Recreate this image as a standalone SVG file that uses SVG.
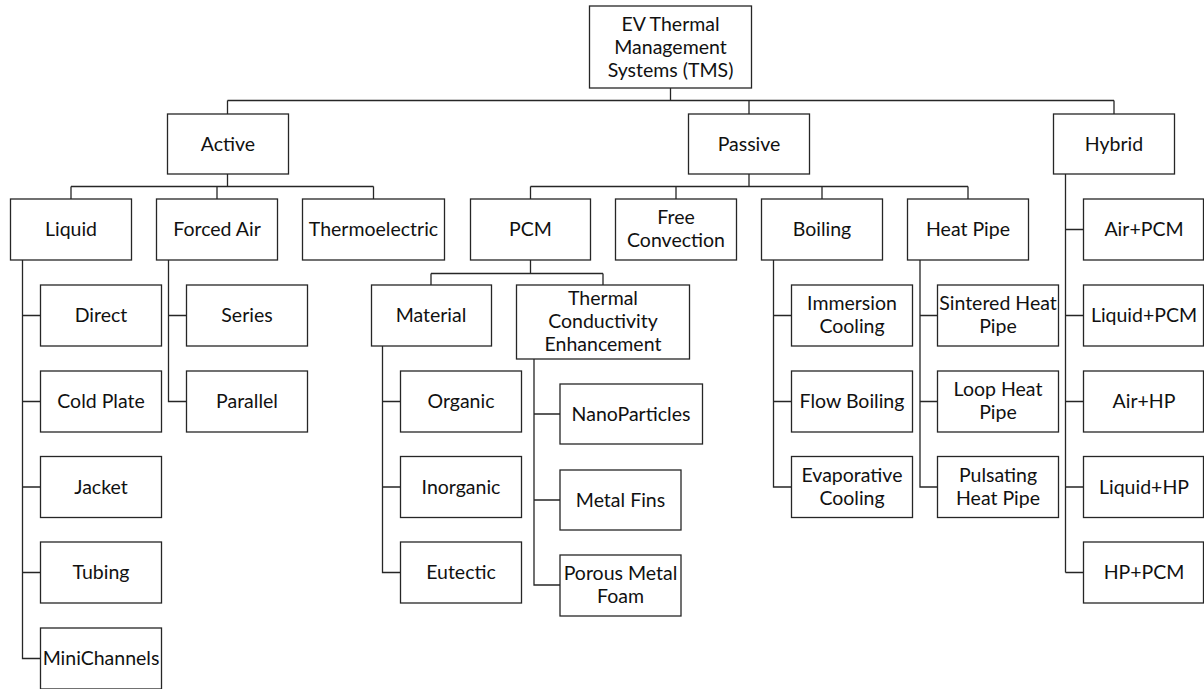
<svg xmlns="http://www.w3.org/2000/svg" width="1204" height="689" viewBox="0 0 1204 689">
  <style>
    .box { fill: #ffffff; stroke: #262626; stroke-width: 1.3; }
    .wire { fill: none; stroke: #262626; stroke-width: 1.3; }
    text { font-family: Lato, "Open Sans", "Liberation Sans", sans-serif; font-size: 19.5px; fill: #111111; text-anchor: middle; }
  </style>
  <rect width="1204" height="689" fill="#ffffff"/>

  <!-- connectors -->
  <g id="connectors" class="wire">
    <path d="M670.5 88 V100.5 M227.5 100.5 H1114 M227.5 100.5 V114 M749 100.5 V114 M1114 100.5 V114"/>
    <path d="M227.5 174 V186.5 M71 186.5 H373.5 M71 186.5 V199 M217 186.5 V199 M373.5 186.5 V199"/>
    <path d="M749 174 V186.5 M530.5 186.5 H968 M530.5 186.5 V199 M676 186.5 V199 M822 186.5 V199 M968 186.5 V199"/>
    <path d="M1065.5 174 V572.5 M1065.5 229.5 H1083.5 M1065.5 315.5 H1083.5 M1065.5 401.5 H1083.5 M1065.5 487 H1083.5 M1065.5 572.5 H1083.5"/>
    <path d="M22.5 260 V658.5 H40.5 M22.5 315.5 H40.5 M22.5 401.5 H40.5 M22.5 487 H40.5 M22.5 572.5 H40.5"/>
    <path d="M168.5 260 V401.5 H186.5 M168.5 315.5 H186.5"/>
    <path d="M530.5 260 V273.5 M431 273.5 H603 M431 273.5 V285 M603 273.5 V285"/>
    <path d="M382.5 346 V572.5 H400.5 M382.5 401.5 H400.5 M382.5 487 H400.5"/>
    <path d="M534 359 V585 H560 M534 414 H560 M534 500 H560"/>
    <path d="M773.5 260 V487 H791.5 M773.5 315.5 H791.5 M773.5 401.5 H791.5"/>
    <path d="M920 260 V487 H937.5 M920 315.5 H937.5 M920 401.5 H937.5"/>
  </g>

  <!-- level 0 -->
  <g id="root"><rect class="box" x="589.5" y="6" width="162" height="82"/>
    <text x="670.5" y="30.5">EV Thermal</text><text x="670.5" y="53.5">Management</text><text x="670.5" y="76.5">Systems (TMS)</text></g>

  <!-- level 1 -->
  <g id="active"><rect class="box" x="167.5" y="114" width="121" height="60"/><text x="228" y="150.5">Active</text></g>
  <g id="passive"><rect class="box" x="688.5" y="114" width="121" height="60"/><text x="749" y="150.5">Passive</text></g>
  <g id="hybrid"><rect class="box" x="1053.5" y="114" width="121" height="60"/><text x="1114" y="150.5">Hybrid</text></g>

  <!-- level 2 -->
  <g id="liquid"><rect class="box" x="10.5" y="199" width="121" height="61"/><text x="71" y="236">Liquid</text></g>
  <g id="forced-air"><rect class="box" x="156.5" y="199" width="121" height="61"/><text x="217" y="236">Forced Air</text></g>
  <g id="thermoelectric"><rect class="box" x="302.5" y="199" width="142" height="61"/><text x="373.5" y="236">Thermoelectric</text></g>
  <g id="pcm"><rect class="box" x="470.5" y="199" width="120" height="61"/><text x="530.5" y="236">PCM</text></g>
  <g id="free-convection"><rect class="box" x="615.5" y="199" width="121" height="61"/><text x="676" y="224">Free</text><text x="676" y="247">Convection</text></g>
  <g id="boiling"><rect class="box" x="761.5" y="199" width="121" height="61"/><text x="822" y="236">Boiling</text></g>
  <g id="heat-pipe"><rect class="box" x="907.5" y="199" width="121" height="61"/><text x="968" y="236">Heat Pipe</text></g>
  <g id="air-pcm"><rect class="box" x="1083.5" y="199" width="120" height="61"/><text x="1144" y="236">Air+PCM</text></g>

  <!-- liquid branch -->
  <g id="direct"><rect class="box" x="40.5" y="285" width="121" height="61"/><text x="101" y="322">Direct</text></g>
  <g id="cold-plate"><rect class="box" x="40.5" y="371" width="121" height="61"/><text x="101" y="408">Cold Plate</text></g>
  <g id="jacket"><rect class="box" x="40.5" y="456.5" width="121" height="61"/><text x="101" y="493.5">Jacket</text></g>
  <g id="tubing"><rect class="box" x="40.5" y="542" width="121" height="61"/><text x="101" y="579">Tubing</text></g>
  <g id="minichannels"><rect class="box" x="40.5" y="628" width="121" height="61"/><text x="101" y="665">MiniChannels</text></g>

  <!-- forced air branch -->
  <g id="series"><rect class="box" x="186.5" y="285" width="121" height="61"/><text x="247" y="322">Series</text></g>
  <g id="parallel"><rect class="box" x="186.5" y="371" width="121" height="61"/><text x="247" y="408">Parallel</text></g>

  <!-- PCM branch -->
  <g id="material"><rect class="box" x="371.5" y="285" width="120" height="61"/><text x="431" y="322">Material</text></g>
  <g id="tce"><rect class="box" x="516.5" y="285" width="173" height="74"/>
    <text x="603" y="305">Thermal</text><text x="603" y="328">Conductivity</text><text x="603" y="351">Enhancement</text></g>
  <g id="organic"><rect class="box" x="400.5" y="371" width="121" height="61"/><text x="461" y="408">Organic</text></g>
  <g id="inorganic"><rect class="box" x="400.5" y="456.5" width="121" height="61"/><text x="461" y="493.5">Inorganic</text></g>
  <g id="eutectic"><rect class="box" x="400.5" y="542" width="121" height="61"/><text x="461" y="579">Eutectic</text></g>
  <g id="nanoparticles"><rect class="box" x="560" y="384" width="142.5" height="60"/><text x="631" y="420.5">NanoParticles</text></g>
  <g id="metal-fins"><rect class="box" x="560" y="470" width="121" height="60"/><text x="620.5" y="506.5">Metal Fins</text></g>
  <g id="porous-metal-foam"><rect class="box" x="560" y="555" width="121" height="61"/><text x="620.5" y="580">Porous Metal</text><text x="620.5" y="603">Foam</text></g>

  <!-- boiling branch -->
  <g id="immersion-cooling"><rect class="box" x="791.5" y="285" width="121" height="61"/><text x="852" y="310">Immersion</text><text x="852" y="333">Cooling</text></g>
  <g id="flow-boiling"><rect class="box" x="791.5" y="371" width="121" height="61"/><text x="852" y="408">Flow Boiling</text></g>
  <g id="evaporative-cooling"><rect class="box" x="791.5" y="456.5" width="121" height="61"/><text x="852" y="481.5">Evaporative</text><text x="852" y="504.5">Cooling</text></g>

  <!-- heat pipe branch -->
  <g id="sintered-heat-pipe"><rect class="box" x="937.5" y="285" width="121" height="61"/><text x="998" y="310">Sintered Heat</text><text x="998" y="333">Pipe</text></g>
  <g id="loop-heat-pipe"><rect class="box" x="937.5" y="371" width="121" height="61"/><text x="998" y="396">Loop Heat</text><text x="998" y="419">Pipe</text></g>
  <g id="pulsating-heat-pipe"><rect class="box" x="937.5" y="456.5" width="121" height="61"/><text x="998" y="481.5">Pulsating</text><text x="998" y="504.5">Heat Pipe</text></g>

  <!-- hybrid branch -->
  <g id="liquid-pcm"><rect class="box" x="1083.5" y="285" width="120" height="61"/><text x="1144" y="322">Liquid+PCM</text></g>
  <g id="air-hp"><rect class="box" x="1083.5" y="371" width="120" height="61"/><text x="1144" y="408">Air+HP</text></g>
  <g id="liquid-hp"><rect class="box" x="1083.5" y="456.5" width="120" height="61"/><text x="1144" y="493.5">Liquid+HP</text></g>
  <g id="hp-pcm"><rect class="box" x="1083.5" y="542" width="120" height="61"/><text x="1144" y="579">HP+PCM</text></g>
</svg>
